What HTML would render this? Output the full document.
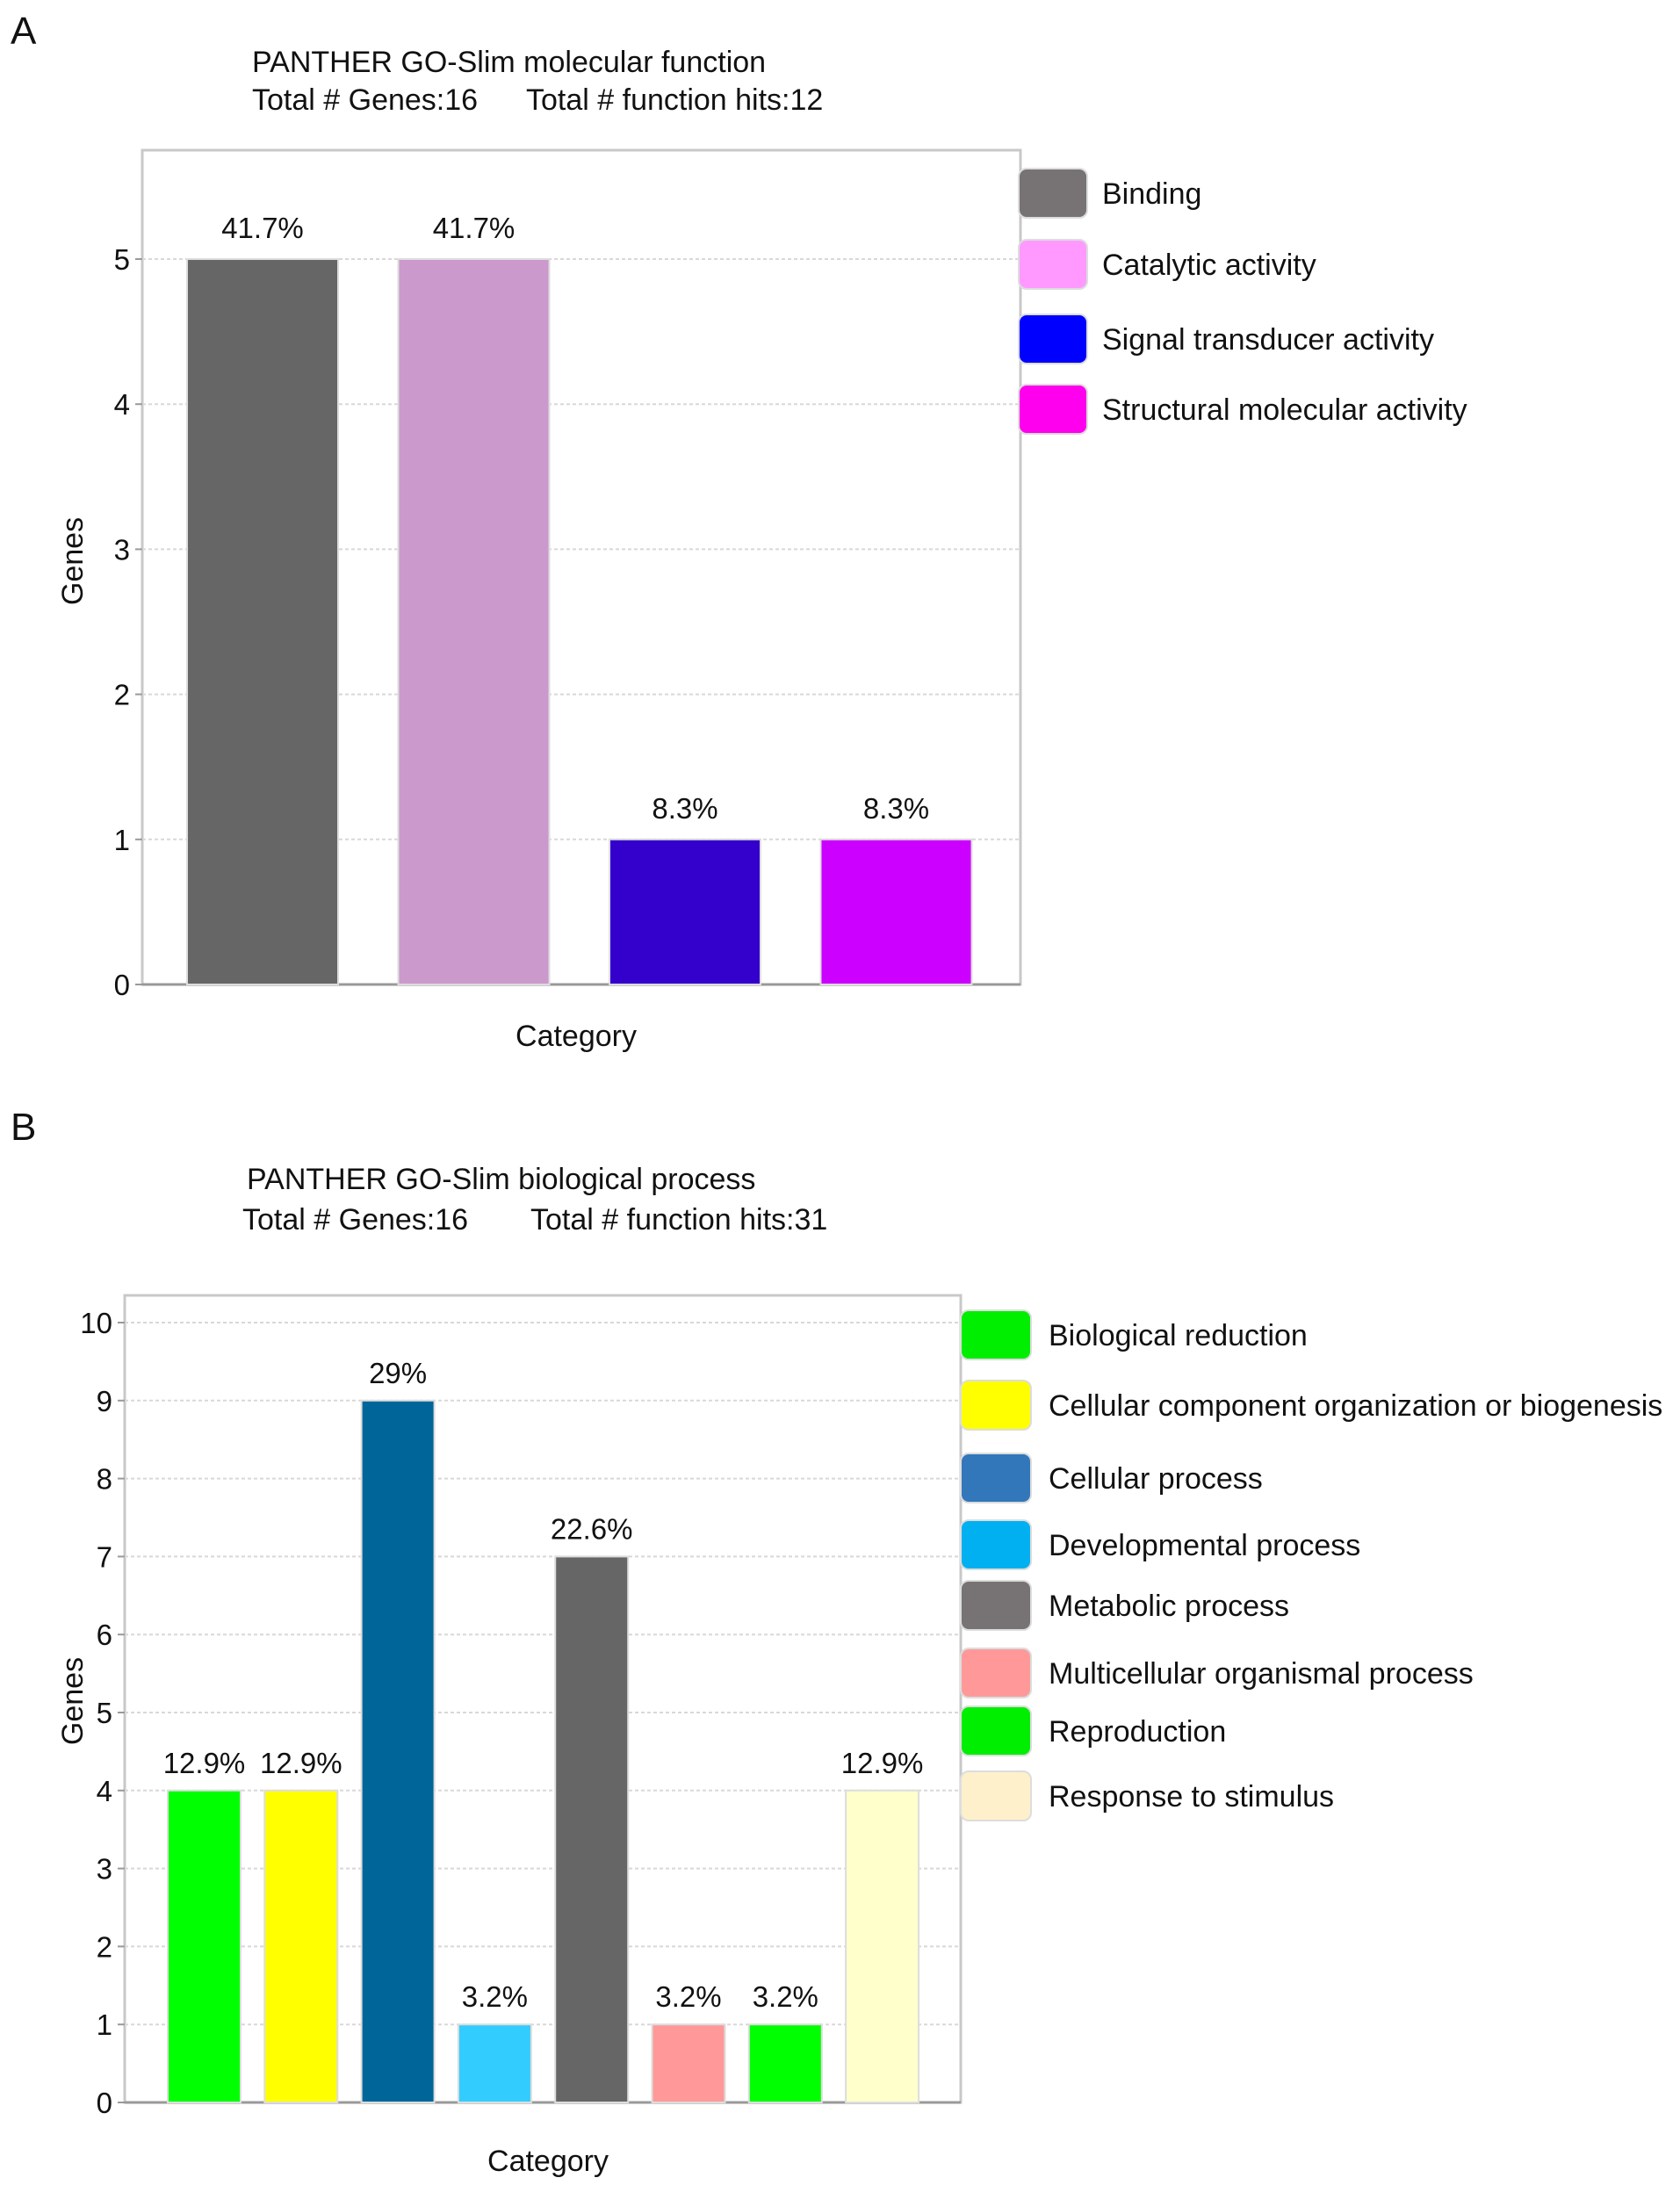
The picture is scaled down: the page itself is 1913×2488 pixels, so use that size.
<!DOCTYPE html>
<html><head><meta charset="utf-8"><style>
html,body{margin:0;padding:0;background:#fff;}
svg{display:block;font-family:"Liberation Sans",Arial,sans-serif;}
</style></head><body>
<svg id="s" width="1913" height="2488" viewBox="0 0 1913 2488"></svg>
<script>
const catsA=["Binding","Catalytic activity","Signal transducer activity","Structural molecular activity"];
const valsA=[5,5,1,1];
const pctA=["41.7%","41.7%","8.3%","8.3%"];
const ticksA=[0,1,2,3,4,5];
const colA=["#666666","#cc99cc","#3300cc","#cc00ff"];
const legColA=["#777374","#ff99ff","#0000ff","#ff00ee"];

const catsB=["Biological reduction","Cellular component organization or biogenesis","Cellular process","Developmental process","Metabolic process","Multicellular organismal process","Reproduction","Response to stimulus"];
const valsB=[4,4,9,1,7,1,1,4];
const pctB=["12.9%","12.9%","29%","3.2%","22.6%","3.2%","3.2%","12.9%"];
const ticksB=[0,1,2,3,4,5,6,7,8,9,10];
const colB=["#00ff00","#ffff00","#006699","#33ccff","#666666","#ff9999","#00ff00","#ffffcc"];
const legColB=["#00ee00","#ffff00","#3377bb","#00b0f0","#777374","#ff9999","#00ee00","#fff0cc"];

const NS="http://www.w3.org/2000/svg";
const svg=document.getElementById('s');
function mk(tag,attrs,parent){const e=document.createElementNS(NS,tag);for(const k in attrs)e.setAttribute(k,attrs[k]);(parent||svg).appendChild(e);return e;}
function txt(x,y,s,size,anchor,parent){const t=mk('text',{x:x,y:y,'font-size':size,'text-anchor':anchor||'start',fill:'#111'},parent);t.textContent=s;return t;}

function chart(cfg){
  const g=mk('g',{});
  
  
  const yS=v=>cfg.y0-(v/cfg.unitMax)*(cfg.y0-cfg.yTopTick);
  const fr=mk('rect',{x:cfg.left,y:cfg.top,width:cfg.right-cfg.left,height:cfg.y0-cfg.top,fill:'#fff',stroke:'#c8c8c8','stroke-width':3},g);
  
  
  cfg.ticks.forEach(t=>{
    const y=yS(t);
    if(t>0){const l=mk('line',{x1:cfg.left,x2:cfg.right,y1:y,y2:y,stroke:'#d8d8d8','stroke-width':2,'stroke-dasharray':'4 3'},g);
      
      }
    mk('line',{x1:cfg.left-8,x2:cfg.left,y1:y,y2:y,stroke:'#999','stroke-width':2},g);
    const tl=txt(cfg.left-14,y+12,String(t),33,'end',g);
    
    
  });
  mk('line',{x1:cfg.left,x2:cfg.right,y1:cfg.y0,y2:cfg.y0,stroke:'#999','stroke-width':3},g);
  cfg.vals.forEach((v,i)=>{
    const x=cfg.bx0+i*cfg.step, y=yS(v);
    const r=mk('rect',{x:x,y:y,width:cfg.bw,height:cfg.y0-y,fill:cfg.cols[i],stroke:'#dddddd','stroke-width':2},g);
    
    
    const l=txt(x+cfg.bw/2,y-cfg.lblOff,cfg.pct[i],33,'middle',g);
    
    
  });
  cfg.cats.forEach((c,i)=>{
    const cy=cfg.legY[i];
    const sw=mk('rect',{x:cfg.legX,y:cy-cfg.swH/2,width:cfg.swW,height:cfg.swH,rx:9,fill:cfg.legCols[i],stroke:'#ddd','stroke-width':2},g);
    
    
    const t=txt(cfg.legTX,cy+12,c,34,'start',g);
    
    
  });
}

let e;
e=txt(12,50,'A',44);
e=txt(287,82,'PANTHER GO-Slim molecular function',34);
e=txt(287,125,'Total # Genes:16',34);
e=txt(599,125,'Total # function hits:12',34);
e=txt(656,1191,'Category',34,'middle');
e=txt(0,0,'Genes',34,'middle');e.setAttribute('transform','translate(94,639) rotate(-90)');

chart({name:'chart-a',left:162,right:1162,top:171,y0:1121,yTopTick:295,unitMax:5,ticks:ticksA,vals:valsA,pct:pctA,cols:colA,cats:catsA,legCols:legColA,
  bx0:213,step:240.5,bw:172,legX:1160,swW:78,swH:56,legTX:1255,legY:[220,301,386,466],lblOff:24});

e=txt(12,1298,'B',44);
e=txt(281,1354,'PANTHER GO-Slim biological process',34);
e=txt(276,1400,'Total # Genes:16',34);
e=txt(604,1400,'Total # function hits:31',34);
e=txt(624,2472,'Category',34,'middle');
e=txt(0,0,'Genes',34,'middle');e.setAttribute('transform','translate(94,1937) rotate(-90)');

chart({name:'chart-b',left:142,right:1094,top:1475,y0:2394,yTopTick:1506,unitMax:10,ticks:ticksB,vals:valsB,pct:pctB,cols:colB,cats:catsB,legCols:legColB,
  bx0:191,step:110.3,bw:83,legX:1094,swW:80,swH:56,legTX:1194,legY:[1520,1600,1683,1759,1828,1905,1971,2045],lblOff:20});
</script>
</body></html>
